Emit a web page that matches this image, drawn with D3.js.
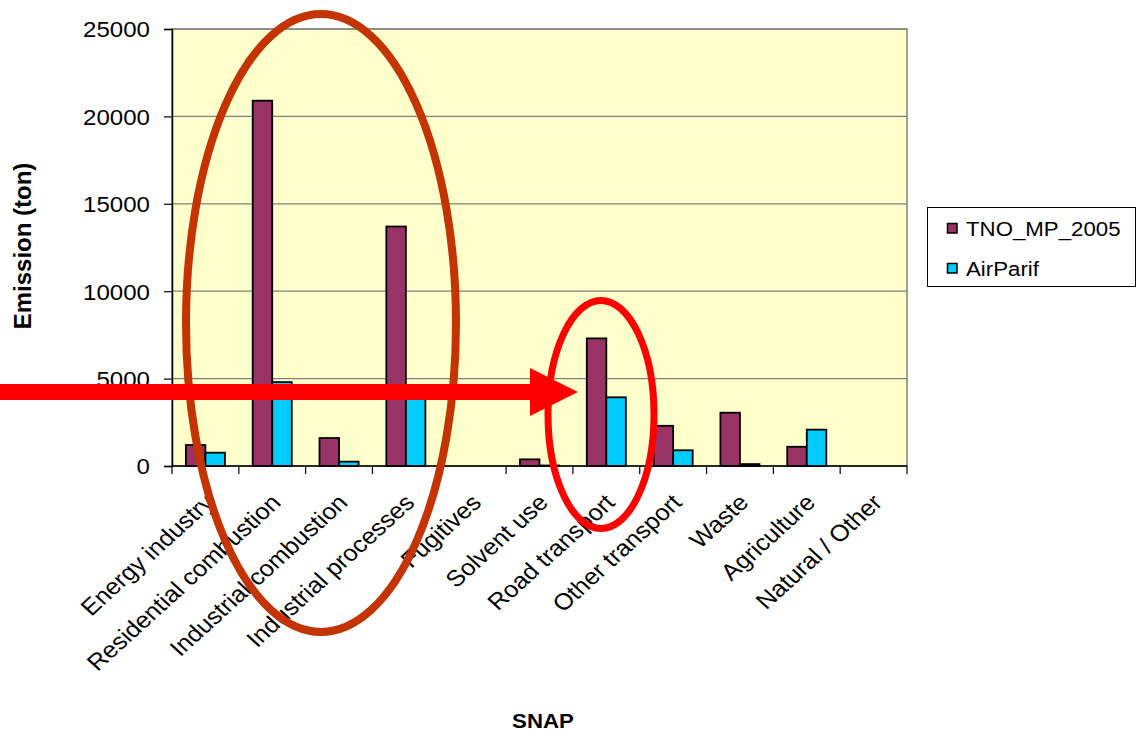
<!DOCTYPE html>
<html>
<head>
<meta charset="utf-8">
<script src="https://cdn.jsdelivr.net/npm/d3@7"></script>
<style>
  html, body { margin: 0; padding: 0; background: #ffffff; }
  svg { display: block; font-family: "Liberation Sans", Arial, sans-serif; }
</style>
</head>
<body>
<svg id="chart" width="1137" height="733"></svg>
<script>
// SNAP sector emissions (ton)
const categories = ["Energy industry", "Residential combustion", "Industrial combustion",
  "Industrial processes", "Fugitives", "Solvent use", "Road transport", "Other transport",
  "Waste", "Agriculture", "Natural / Other"];
const seriesNames = ["TNO_MP_2005", "AirParif"];
const tnoValues = [1200, 20900, 1600, 13700, 0, 380, 7300, 2300, 3050, 1100, 0];
const airparifValues = [760, 4800, 250, 4200, 0, 30, 3930, 900, 110, 2080, 0];
const yTicks = [0, 5000, 10000, 15000, 20000, 25000];
const seriesColors = ["#993366", "#00CCFF"];

const svg = d3.select("#chart");
const plot = { left: 172, right: 907, top: 29, bottom: 466 };
const SX = 1.12; // horizontal text stretch

const x = d3.scaleBand().domain(categories).range([plot.left, plot.right]).paddingInner(0).paddingOuter(0);
const xSub = d3.scaleBand().domain(seriesNames).range([0, x.bandwidth()]).paddingInner(0).paddingOuter(0.71);
const y = d3.scaleLinear().domain([0, 25000]).range([plot.bottom, plot.top]);

// plot background
svg.append("rect")
  .attr("x", plot.left).attr("y", plot.top)
  .attr("width", plot.right - plot.left).attr("height", plot.bottom - plot.top)
  .attr("fill", "#FFFFCC").attr("stroke", "#808080").attr("stroke-width", 1.5);

// gridlines
svg.append("g").selectAll("line").data(yTicks.filter(d => d > 0)).join("line")
  .attr("x1", plot.left).attr("x2", plot.right)
  .attr("y1", d => y(d)).attr("y2", d => y(d))
  .attr("stroke", "#808080").attr("stroke-width", 1.2);

// bars
const rows = categories.map((c, i) => ({ cat: c, vals: [tnoValues[i], airparifValues[i]] }));
const groups = svg.append("g").selectAll("g").data(rows).join("g")
  .attr("transform", d => `translate(${x(d.cat)},0)`);
groups.selectAll("rect")
  .data(d => d.vals.map((v, k) => ({ key: seriesNames[k], v, k })).filter(e => e.v > 0))
  .join("rect")
  .attr("x", e => xSub(e.key))
  .attr("width", xSub.bandwidth())
  .attr("y", e => y(e.v))
  .attr("height", e => y(0) - y(e.v))
  .attr("fill", e => seriesColors[e.k])
  .attr("stroke", "#000").attr("stroke-width", 1.8);

// y axis
const yAxis = svg.append("g").attr("transform", `translate(${plot.left},0)`)
  .call(d3.axisLeft(y).tickValues(yTicks).tickSize(8).tickFormat(d3.format("d")));
yAxis.select(".domain").attr("stroke", "#000").attr("stroke-width", 1.5);
yAxis.selectAll(".tick line").attr("stroke", "#000").attr("stroke-width", 1.2);
yAxis.selectAll(".tick text").remove();
yAxis.selectAll(".tick").append("text")
  .attr("transform", `translate(-22,7.8) scale(${SX},1)`)
  .attr("text-anchor", "end").attr("fill", "#000").attr("font-size", 21.5)
  .attr("font-family", "Liberation Sans, Arial, sans-serif")
  .text(d => d);

// x axis with ticks on category boundaries
const xAxis = svg.append("g").attr("transform", `translate(0,${plot.bottom})`);
xAxis.append("line").attr("x1", plot.left).attr("x2", plot.right)
  .attr("stroke", "#000").attr("stroke-width", 1.5);
const bounds = categories.map(c => x(c)).concat([plot.right]);
xAxis.selectAll("line.tk").data(bounds).join("line").attr("class", "tk")
  .attr("x1", d => d).attr("x2", d => d).attr("y1", 0).attr("y2", 8)
  .attr("stroke", "#000").attr("stroke-width", 1.2);
xAxis.selectAll("text").data(categories).join("text")
  .attr("transform", d => `translate(${x(d) + x.bandwidth() / 2 + 10},${38}) scale(1.1,1) rotate(-45)`)
  .attr("text-anchor", "end").attr("font-size", 23).attr("fill", "#000")
  .text(d => d);

// axis titles
svg.append("text")
  .attr("transform", "translate(31,246) rotate(-90)")
  .attr("text-anchor", "middle").attr("font-weight", "bold").attr("font-size", 24)
  .text("Emission (ton)");
svg.append("text")
  .attr("transform", "translate(543,728) scale(1.06,1)")
  .attr("text-anchor", "middle").attr("font-weight", "bold").attr("font-size", 21)
  .text("SNAP");

// legend
const legend = svg.append("g");
legend.append("rect").attr("x", 927.5).attr("y", 207.5).attr("width", 208).attr("height", 79)
  .attr("fill", "#fff").attr("stroke", "#000").attr("stroke-width", 1);
const li = legend.selectAll("g").data(seriesNames).join("g")
  .attr("transform", (d, i) => `translate(0,${i * 40})`);
li.append("rect").attr("x", 947.5).attr("y", 223.5).attr("width", 9.5).attr("height", 9.5)
  .attr("fill", (d, i) => seriesColors[i]).attr("stroke", "#000").attr("stroke-width", 1.5);
li.append("text")
  .attr("transform", `translate(966,235.5) scale(1.06,1)`)
  .attr("font-size", 21).attr("fill", "#000").text(d => d);

// highlight marks
svg.append("ellipse").attr("cx", 321).attr("cy", 323).attr("rx", 135).attr("ry", 309)
  .attr("fill", "none").attr("stroke", "#C33400").attr("stroke-width", 8);
svg.append("ellipse").attr("cx", 601).attr("cy", 414.5).attr("rx", 53).attr("ry", 114)
  .attr("fill", "none").attr("stroke", "#FF0000").attr("stroke-width", 7);
svg.append("rect").attr("x", 0).attr("y", 384).attr("width", 532).attr("height", 16)
  .attr("fill", "#FF0000");
svg.append("path").attr("d", "M530,368 L578,392 L530,416 Z").attr("fill", "#FF0000");
</script>
</body>
</html>
